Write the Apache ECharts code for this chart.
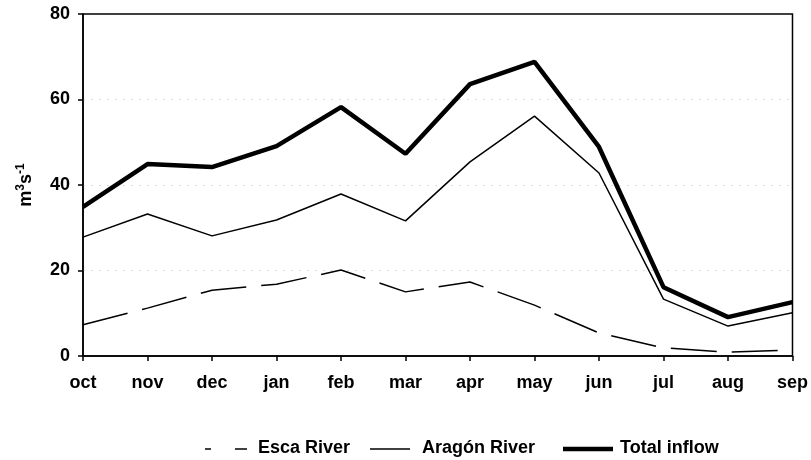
<!DOCTYPE html>
<html>
<head>
<meta charset="utf-8">
<script src="https://cdn.jsdelivr.net/npm/echarts@6/dist/echarts.min.js"></script>
<style>
  html, body { margin: 0; padding: 0; background: #fff; }
  #chart { width: 811px; height: 460px; }
</style>
</head>
<body>
<div id="chart"></div>
<script>
// Monthly inflow, hydrological year oct-sep (m3/s)
const months = ['oct', 'nov', 'dec', 'jan', 'feb', 'mar', 'apr', 'may', 'jun', 'jul', 'aug', 'sep'];
const escaRiver = [7.3, 11.2, 15.4, 16.8, 20.1, 15.0, 17.3, 11.9, 5.4, 1.9, 0.9, 1.4];
const aragonRiver = [27.8, 33.2, 28.1, 31.8, 37.9, 31.6, 45.4, 56.1, 42.8, 13.3, 7.0, 10.1];
const totalInflow = [34.9, 44.9, 44.2, 49.1, 58.2, 47.3, 63.6, 68.8, 48.9, 16.1, 9.1, 12.6];
const seriesNames = ['Esca River', 'Aragón River', 'Total inflow'];

const font = 'Liberation Sans, Arial, sans-serif';
const chart = echarts.init(document.getElementById('chart'));

const lineSeries = (name, data, width, type) => ({
  name,
  type: 'line',
  data,
  symbol: 'none',
  lineStyle: { color: '#000', width, type, cap: 'butt' },
  itemStyle: { color: '#000' },
  animation: false,
});

// hand-drawn legend (line keys without the point markers)
const legendY = 449;
const legendText = (x, text) => ({
  type: 'text', left: x, top: legendY - 10,
  style: { text, fill: '#000', font: 'bold 18px ' + font },
});
const legendLine = (x1, x2, w) => ({
  type: 'line', shape: { x1, y1: legendY, x2, y2: legendY },
  style: { stroke: '#000', lineWidth: w },
});

chart.setOption({
  backgroundColor: '#fff',
  grid: { left: 83, right: 14, top: 14, bottom: 104, show: true, borderColor: '#000', borderWidth: 1.5 },
  xAxis: {
    type: 'category',
    data: months,
    boundaryGap: false,
    axisLine: { lineStyle: { color: '#000', width: 1.5 } },
    axisTick: { alignWithLabel: true, length: 5, lineStyle: { color: '#000', width: 1.5 } },
    axisLabel: { color: '#000', fontFamily: font, fontWeight: 'bold', fontSize: 18, margin: 18 },
  },
  yAxis: {
    type: 'value',
    min: 0,
    max: 80,
    interval: 20,
    name: 'm{sup|3}s{sup|-1}',
    nameLocation: 'middle',
    nameGap: 46,
    nameTextStyle: {
      color: '#000', fontFamily: font, fontWeight: 'bold', fontSize: 18,
      rich: { sup: { fontFamily: font, fontWeight: 'bold', fontSize: 12, verticalAlign: 'top', padding: [0, 0, 10, 0] } },
    },
    axisLine: { show: true, lineStyle: { color: '#000', width: 1.5 } },
    axisTick: { show: true, length: 5, lineStyle: { color: '#000', width: 1.5 } },
    axisLabel: { color: '#000', fontFamily: font, fontWeight: 'bold', fontSize: 18, margin: 13 },
    splitLine: { show: true, showMinLine: false, showMaxLine: false, lineStyle: { color: '#ddd', type: [2, 6], width: 1 } },
  },
  graphic: [
    legendLine(205, 211, 1.5),
    legendLine(235, 247, 1.5),
    legendText(258, seriesNames[0]),
    legendLine(370, 410, 1.5),
    legendText(422, seriesNames[1]),
    legendLine(563, 613, 4.5),
    legendText(620, seriesNames[2]),
  ],
  series: [
    lineSeries(seriesNames[0], escaRiver, 1.5, [46, 15]),
    lineSeries(seriesNames[1], aragonRiver, 1.5, 'solid'),
    lineSeries(seriesNames[2], totalInflow, 4.5, 'solid'),
  ],
});
</script>
</body>
</html>
